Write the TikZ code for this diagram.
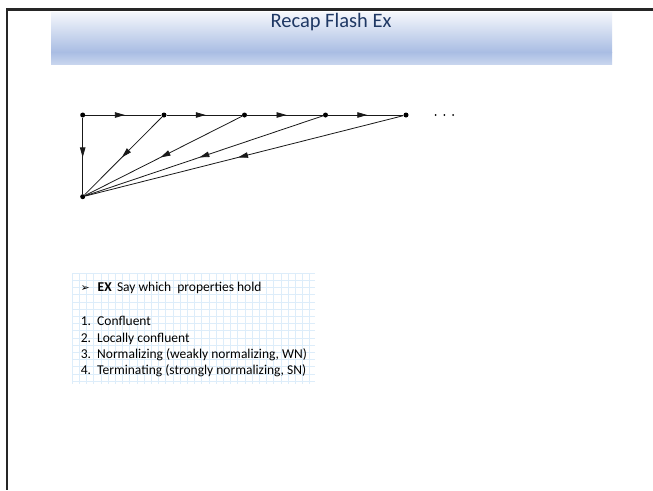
\documentclass[tikz,border=0pt]{standalone}
\usepackage{fontspec}
\setmainfont{Carlito}
\newfontfamily\djv{DejaVu Sans}
\usetikzlibrary{arrows.meta,decorations.markings}
\definecolor{titlec}{HTML}{1F3864}
\definecolor{bandtop}{HTML}{F5F7FC}
\definecolor{bandmid}{HTML}{A9BDE3}
\definecolor{bandbot}{HTML}{C8D5EE}
\definecolor{gridc}{HTML}{DDEDFA}
\begin{document}
\begin{tikzpicture}[x=1pt,y=-1pt,
  dotn/.style={circle,fill=black,inner sep=0pt,minimum size=5pt},
  edge/.style={line width=0.8pt,black!90},
  midarrow/.style={postaction={decorate},decoration={markings,mark=at position 0.52 with {\arrow{Triangle[length=10pt,width=5.5pt]}}}},
  body/.style={font=\fontsize{13.5}{16}\selectfont,anchor=base west,inner sep=0pt}]
\useasboundingbox (0,0) rectangle (653,490);
\fill[white] (0,0) rectangle (653,490);
% title band
\shade[top color=bandtop,bottom color=bandmid] (51,12) rectangle (612,52);
\shade[top color=bandmid,bottom color=bandbot] (51,52) rectangle (612,64);
\node[font=\fontsize{20.5}{24}\selectfont,text=titlec,inner sep=0pt] (title) at (331,22) {Recap Flash Ex};
% frame
\draw[line width=2.5pt,black!85] (653,9.5) -- (7,9.5) -- (7,490);
% graph
\node[dotn] (a0) at (82.7,115) {};
\node[dotn] (a1) at (164,115) {};
\node[dotn] (a2) at (244.5,115) {};
\node[dotn] (a3) at (325.5,115) {};
\node[dotn] (a4) at (406,115) {};
\node[dotn] (b) at (82.7,196.7) {};
\foreach \i/\j in {a0/a1,a1/a2,a2/a3,a3/a4}{\draw[edge,midarrow] (\i) -- (\j);}
\draw[edge,midarrow] (a0) -- (b);
\foreach \i in {a1,a2,a3,a4}{\draw[edge,midarrow] (\i) -- (b);}
\foreach \x in {435.7,444.4,453.1}{\fill (\x,115) circle (1pt);}
% grid box
\foreach \x in {0,...,33}{\draw[gridc,line width=0.6pt] (72+7.2*\x,273) -- (72+7.2*\x,384);}
\foreach \y in {0,...,15}{\draw[gridc,line width=0.6pt] (72,273+7.2*\y) -- (315,273+7.2*\y);}
\node[body] (bul) at (80.5,291.7) {\djv\fontsize{11}{12}\selectfont ➢};
\node[body] (hdr) at (97.5,291.7) {\textbf{EX}\, Say which\ \ properties hold};
\node[body] (n1) at (80.7,325.7) {1.};
\node[body] (n2) at (80.7,342) {2.};
\node[body] (n3) at (80.7,358.4) {3.};
\node[body] (n4) at (80.7,374.8) {4.};
\node[body] (t1) at (97,325.7) {Confluent};
\node[body] (t2) at (97,342) {Locally confluent};
\node[body] (t3) at (97,358.4) {Normalizing (weakly normalizing, WN)};
\node[body] (t4) at (97,374.8) {Terminating (strongly normalizing, SN)};
\end{tikzpicture}
\end{document}
